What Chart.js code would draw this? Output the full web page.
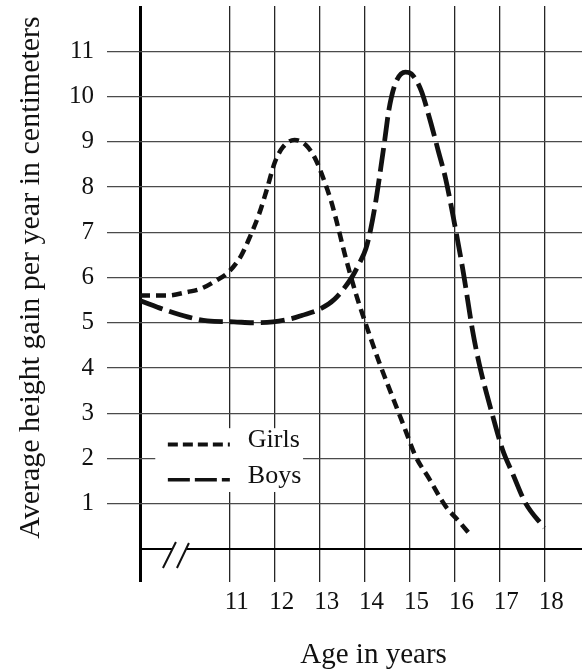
<!DOCTYPE html>
<html>
<head>
<meta charset="utf-8">
<script src="https://cdn.jsdelivr.net/npm/chart.js@4/dist/chart.umd.min.js"></script>
<style>
  html, body { margin: 0; padding: 0; background: #fff; }
  #wrap { width: 582px; height: 669px; }
</style>
</head>
<body>
<div id="wrap"><canvas id="c" width="582" height="669"></canvas></div>
<script>
// ---- data ----
const seriesNames = ['Girls', 'Boys'];
const xTickValues = [9, 10, 11, 12, 13, 14, 15, 16, 17, 18];
const xTickLabels = ['', '', '11', '12', '13', '14', '15', '16', '17', '18'];
const yTickValues = [0, 1, 2, 3, 4, 5, 6, 7, 8, 9, 10, 11];
const yTickLabels = ['', '1', '2', '3', '4', '5', '6', '7', '8', '9', '10', '11'];
const xTitle = 'Age in years';
const yTitle = 'Average height gain per year in centimeters';

const girlsAge  = [9, 9.6, 10.06, 10.35, 10.64, 10.98, 11.25, 11.43, 11.65, 11.81, 12.0, 12.18, 12.44, 12.7, 12.89, 13.04, 13.26, 13.4, 13.55, 13.7, 13.85, 14.0, 14.32, 14.61, 14.9, 15.13, 15.44, 15.8, 16.11, 16.34];
const girlsGain = [5.6, 5.6, 5.68, 5.75, 5.9, 6.13, 6.48, 6.86, 7.4, 7.9, 8.54, 8.88, 9.04, 8.92, 8.65, 8.3, 7.67, 7.15, 6.55, 6.0, 5.5, 5.05, 4.14, 3.39, 2.65, 2.06, 1.55, 0.95, 0.6, 0.33];

const boysAge  = [9, 9.6, 10.06, 10.5, 11.09, 11.5, 11.96, 12.37, 12.6, 13.0, 13.33, 13.7, 13.87, 14.03, 14.14, 14.25, 14.36, 14.45, 14.54, 14.69, 14.91, 15.04, 15.26, 15.46, 15.64, 15.8, 16.0, 16.2, 16.4, 16.55, 16.85, 17.07, 17.29, 17.58, 18.0];
const boysGain = [5.49, 5.27, 5.13, 5.04, 5.02, 5.0, 5.02, 5.09, 5.16, 5.3, 5.52, 5.98, 6.29, 6.64, 7.09, 7.69, 8.42, 9.05, 9.7, 10.3, 10.54, 10.5, 10.13, 9.47, 8.8, 8.2, 7.2, 6.1, 4.85, 4.1, 2.95, 2.2, 1.68, 1.02, 0.47];

// ---- chart ----
const SERIF = '"Liberation Serif", "DejaVu Serif", serif';
const INK = '#111';

function pts(xs, ys) { return xs.map((x, i) => ({ x: x, y: ys[i] })); }

const dashes = [[10, 6], [24, 7]];

const decor = {
  id: 'decor',
  beforeDraw(chart) {
    const ctx = chart.ctx;
    ctx.save();
    ctx.fillStyle = '#fff';
    ctx.fillRect(0, 0, chart.width, chart.height);
    ctx.restore();
  },
  afterDraw(chart) {
    const ctx = chart.ctx;
    const xs = chart.scales.x, ys = chart.scales.y;
    ctx.save();
    // axis break mark on the baseline
    const by = ys.getPixelForValue(0);
    const bx = xs.getPixelForValue(9.8);
    ctx.fillStyle = '#fff';
    ctx.fillRect(bx - 3, by - 3, 13, 6);
    ctx.strokeStyle = INK;
    ctx.lineWidth = 2;
    ctx.beginPath();
    ctx.moveTo(bx - 13, by + 19); ctx.lineTo(bx, by - 7);
    ctx.moveTo(bx + 1, by + 19); ctx.lineTo(bx + 13, by - 6);
    ctx.stroke();

    // legend inside plot, on a white box
    const lx = xs.getPixelForValue(9.34), rx = xs.getPixelForValue(12.63);
    const ty = ys.getPixelForValue(2.67), btm = ys.getPixelForValue(1.26);
    ctx.fillStyle = '#fff';
    ctx.fillRect(lx, ty, rx - lx, btm - ty);
    const rows = [ys.getPixelForValue(2.4), ys.getPixelForValue(1.62)];
    chart.data.datasets.forEach((ds, i) => {
      const y = rows[i];
      ctx.strokeStyle = INK;
      ctx.lineWidth = i === 0 ? 4 : 3.5;
      ctx.setLineDash(i === 0 ? [10, 5] : [22, 5]);
      ctx.beginPath();
      ctx.moveTo(xs.getPixelForValue(9.62), y + 4);
      ctx.lineTo(xs.getPixelForValue(11.0), y + 4);
      ctx.stroke();
      ctx.setLineDash([]);
      ctx.fillStyle = INK;
      ctx.font = '26px ' + SERIF;
      ctx.textAlign = 'left';
      ctx.textBaseline = 'middle';
      ctx.fillText(ds.label, xs.getPixelForValue(11.4), y);
    });

    // x axis title
    ctx.fillStyle = INK;
    ctx.font = '29px ' + SERIF;
    ctx.textAlign = 'center';
    ctx.textBaseline = 'alphabetic';
    ctx.fillText(xTitle, xs.getPixelForValue(14.2), 663);
    ctx.restore();
  }
};

new Chart(document.getElementById('c'), {
  type: 'line',
  data: {
    datasets: [
      {
        label: seriesNames[0],
        data: pts(girlsAge, girlsGain),
        borderColor: INK,
        borderWidth: 4.5,
        borderDash: dashes[0],
        pointRadius: 0,
        fill: false,
        cubicInterpolationMode: 'monotone'
      },
      {
        label: seriesNames[1],
        data: pts(boysAge, boysGain),
        borderColor: INK,
        borderWidth: 4.8,
        borderDash: dashes[1],
        pointRadius: 0,
        fill: false,
        cubicInterpolationMode: 'monotone'
      }
    ]
  },
  options: {
    responsive: false,
    animation: false,
    layout: { padding: { top: 6, left: 0, right: 0, bottom: 0 } },
    plugins: { legend: { display: false }, tooltip: { enabled: false } },
    scales: {
      x: {
        type: 'linear',
        min: 9,
        max: 18.84,
        afterBuildTicks(scale) { scale.ticks = xTickValues.map(v => ({ value: v })); },
        afterFit(scale) { scale.height = 120; scale.paddingLeft = 0; scale.paddingRight = 0; },
        ticks: {
          autoSkip: false,
          maxRotation: 0,
          padding: 5,
          labelOffset: 7,
          color: INK,
          font: { family: SERIF, size: 25 },
          callback(v) { const i = xTickValues.indexOf(v); return i >= 0 ? xTickLabels[i] : ''; }
        },
        grid: {
          tickLength: 33,
          color(c) { return c.tick && c.tick.value === 10 ? 'rgba(0,0,0,0)' : (c.tick && c.tick.value === 9 ? '#000' : '#262626'); },
          lineWidth(c) { return c.tick && c.tick.value === 9 ? 3 : 1.3; }
        },
        border: { display: true, color: '#000', width: 2 }
      },
      y: {
        type: 'linear',
        min: 0,
        max: 12,
        afterBuildTicks(scale) { scale.ticks = yTickValues.map(v => ({ value: v })); },
        afterFit(scale) { scale.width = 140; scale.paddingTop = 0; scale.paddingBottom = 0; },
        ticks: {
          padding: 13,
          color: INK,
          font: { family: SERIF, size: 25 },
          callback(v) { const i = yTickValues.indexOf(v); return i >= 0 ? yTickLabels[i] : ''; }
        },
        grid: {
          tickLength: 33,
          color(c) { return c.tick && c.tick.value === 0 ? 'rgba(0,0,0,0)' : '#4a4a4a'; },
          lineWidth: 1.2
        },
        border: { display: false },
        title: {
          display: true,
          text: yTitle,
          color: INK,
          font: { family: SERIF, size: 30 },
          padding: { top: 13, bottom: 0 }
        }
      }
    }
  },
  plugins: [decor]
});
</script>
</body>
</html>
